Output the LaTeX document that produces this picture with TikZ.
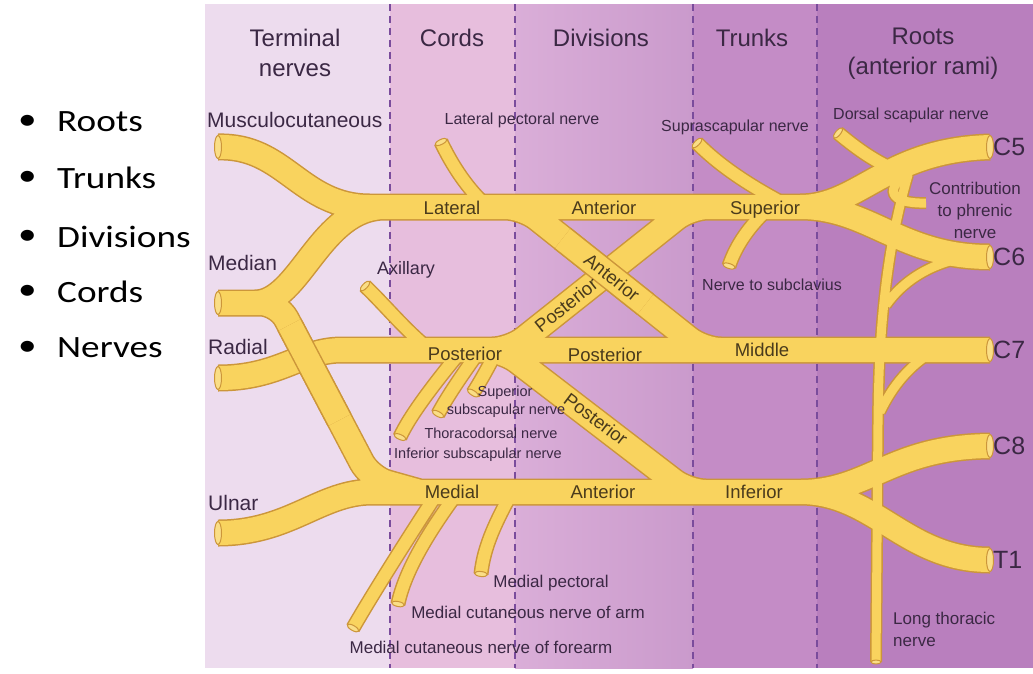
\documentclass[tikz,border=0pt]{standalone}
\usepackage{fontspec}
\setmainfont{Liberation Sans}
\newfontfamily\listfont[FakeStretch=1.2]{Carlito}
\usetikzlibrary{positioning}

\definecolor{nerveyel}{HTML}{F9D35E}
\definecolor{nerveedge}{HTML}{CC963A}
\definecolor{labeltxt}{HTML}{3B2844}
\definecolor{segtxt}{HTML}{4A3B1C}
\definecolor{colterm}{HTML}{EDDCEE}
\definecolor{colcords}{HTML}{E7BEDD}
\definecolor{coldivl}{HTML}{DAAED8}
\definecolor{coldivr}{HTML}{CA9ACC}
\definecolor{coltrunks}{HTML}{C48CC6}
\definecolor{colroots}{HTML}{B97FBE}
\definecolor{sepline}{HTML}{7A4C9C}

\begin{document}
\begin{tikzpicture}[
    x=1pt, y=-1pt,
    every node/.style={inner sep=0pt},
    hdr/.style={font=\fontsize{24}{30}\selectfont, text=labeltxt, align=center},
    lbl/.style={font=\fontsize{16}{19}\selectfont, text=labeltxt},
    smalllbl/.style={font=\fontsize{14.5}{17}\selectfont, text=labeltxt},
    midlbl/.style={font=\fontsize{17}{22}\selectfont, text=labeltxt, align=center},
    termlbl/.style={font=\fontsize{21}{24}\selectfont, text=labeltxt, anchor=west},
    seglbl/.style={font=\fontsize{18.5}{20}\selectfont, text=segtxt},
    rootlbl/.style={font=\fontsize{25}{28}\selectfont, text=labeltxt, anchor=west},
    listitem/.style={font=\listfont\fontsize{31}{36}\selectfont, text=black, anchor=west},
    edgeline/.style={draw=nerveedge, line width=#1pt, rounded corners=18pt},
    coreline/.style={draw=nerveyel, line width=#1pt, rounded corners=18pt},
    cutend/.style={fill=nerveyel!75!white, draw=nerveedge, line width=1pt},
    colsep/.style={draw=sepline, line width=1.4pt, dash pattern=on 7pt off 5pt}
]

   \useasboundingbox (0,0) rectangle (1033,673);

   % Bullet list
   \node[listitem] (dRoots) at (18,122) {•};
   \node[listitem] (tRoots) at (57,122) {Roots};
   \node[listitem] (dTrunks) at (18,178) {•};
   \node[listitem] (tTrunks) at (57,178) {Trunks};
   \node[listitem] (dDivisions) at (18,237) {•};
   \node[listitem] (tDivisions) at (57,237) {Divisions};
   \node[listitem] (dCords) at (18,292) {•};
   \node[listitem] (tCords) at (57,292) {Cords};
   \node[listitem] (dNerves) at (18,348) {•};
   \node[listitem] (tNerves) at (57,348) {Nerves};

   % Columns
   \fill[colterm] (205,4) rectangle (390,668);
   \fill[colcords] (390,4) rectangle (515,668);
   \shade[left color=coldivl, right color=coldivr] (515,4) rectangle (693,668);
   \fill[coltrunks] (693,4) rectangle (817,668);
   \fill[colroots] (817,4) rectangle (1033,668);
   \draw[colsep] (390,4) -- (390,668);
   \draw[colsep] (515,4) -- (515,668);
   \draw[colsep] (693,4) -- (693,668);
   \draw[colsep] (817,4) -- (817,668);

   % Headers
   \node[hdr] (hTerminal) at (295,53) {Terminal\\nerves};
   \node[hdr] (hCords) at (452,38) {Cords};
   \node[hdr] (hDivisions) at (601,38) {Divisions};
   \node[hdr] (hTrunks) at (752,38) {Trunks};
   \node[hdr] (hRoots) at (923,54) {Roots\\(anterior rami)};

   % Nerve paths
   \def\mainnerves{
     (218,147) .. controls (285,145) and (300,207) .. (370,207)
     (218,303) -- (262,303)
     (255,303) .. controls (300,303) and (320,207) .. (385,207)
     (250,303) -- (278,303) -- (370,478) -- (420,492)
     (365,207) -- (820,207)
     (800,207) .. controls (860,207) and (885,150) .. (990,147)
     (800,207) .. controls (870,207) and (900,257) .. (990,257)
     (218,378) .. controls (280,378) and (300,350) .. (360,350) -- (990,350)
     (218,533) .. controls (290,533) and (320,492) .. (390,492) -- (820,492)
     (800,492) .. controls (870,492) and (890,447) .. (990,446)
     (800,492) .. controls (875,492) and (905,560) .. (990,560)
     (470,207) -- (523,207) -- (703,350) -- (750,350)
     (740,207) -- (690,207) -- (510,350) -- (460,350)
     (460,350) -- (503,350) -- (688,492) -- (740,492)
   }
   \def\branchnerves{
     (441,142) .. controls (452,165) and (468,190) .. (488,207)
     (697,143) .. controls (722,168) and (752,187) .. (790,207)
     (770,207) .. controls (750,225) and (736,245) .. (729,266)
     (838,133) .. controls (855,147) and (872,160) .. (895,170)
     (365,286) .. controls (385,305) and (405,330) .. (430,350)
     (497,350) .. controls (488,368) and (480,382) .. (473,393)
     (480,350) .. controls (462,375) and (447,397) .. (438,414)
     (462,350) .. controls (437,380) and (410,415) .. (400,437)
     (438,492) .. controls (410,535) and (375,590) .. (353,628)
     (458,492) .. controls (430,530) and (405,570) .. (398,604)
     (512,492) .. controls (497,520) and (484,545) .. (481,574)
   }
   \def\thinnerves{
     (908,175) .. controls (892,230) and (880,300) .. (878,420) -- (876,662)
     (910,172) .. controls (884,188) and (888,204) .. (926,203)
     (968,257) .. controls (935,262) and (905,278) .. (886,305)
     (935,350) .. controls (910,365) and (893,385) .. (880,412)
   }

   % Nerves: outlines first, then the yellow cores
   \draw[edgeline=27] \mainnerves;
   \draw[edgeline=15] \branchnerves;
   \draw[edgeline=12] \thinnerves;
   \draw[coreline=24] \mainnerves;
   \draw[coreline=12] \branchnerves;
   \draw[coreline=9] \thinnerves;

   % Crossings (median over radial, anterior over posterior)
   \draw[edgeline=27] (289.6,325) -- (339.5,420);
   \draw[coreline=24] (289.6,325) -- (339.5,420);
   \draw[edgeline=27] (562.6,238.5) -- (645.4,304.2);
   \draw[coreline=24] (562.6,238.5) -- (645.4,304.2);

   % Cut ends
   \draw[cutend] (218,147) ellipse (3.5 and 11.5);
   \draw[cutend] (218,303) ellipse (3.5 and 11.5);
   \draw[cutend] (218,378) ellipse (3.5 and 11.5);
   \draw[cutend] (218,533) ellipse (3.5 and 11.5);
   \draw[cutend] (990,147) ellipse (3.5 and 11.5);
   \draw[cutend] (990,257) ellipse (3.5 and 11.5);
   \draw[cutend] (990,350) ellipse (3.5 and 11.5);
   \draw[cutend] (990,446) ellipse (3.5 and 11.5);
   \draw[cutend] (990,560) ellipse (3.5 and 11.5);
   \draw[cutend, rotate around={-64:(441,142)}] (441,142) ellipse (2.5 and 6.5);
   \draw[cutend, rotate around={-45:(697,143)}] (697,143) ellipse (2.5 and 6.5);
   \draw[cutend, rotate around={72:(729,266)}] (729,266) ellipse (2.5 and 6.5);
   \draw[cutend, rotate around={-40:(838,133)}] (838,133) ellipse (2.5 and 6.5);
   \draw[cutend, rotate around={-44:(365,286)}] (365,286) ellipse (2.5 and 6.5);
   \draw[cutend, rotate around={58:(473,393)}] (473,393) ellipse (2.5 and 6.5);
   \draw[cutend, rotate around={62:(438,414)}] (438,414) ellipse (2.5 and 6.5);
   \draw[cutend, rotate around={66:(400,437)}] (400,437) ellipse (2.5 and 6.5);
   \draw[cutend, rotate around={60:(353,628)}] (353,628) ellipse (2.5 and 6.5);
   \draw[cutend, rotate around={78:(398,604)}] (398,604) ellipse (2.5 and 6.5);
   \draw[cutend, rotate around={84:(481,574)}] (481,574) ellipse (2.5 and 6.5);
   \draw[cutend] (876,662) ellipse (5 and 2);

   % Terminal nerves
   \node[termlbl] (lMusculo) at (207,120) {Musculocutaneous};
   \node[termlbl] (lMedian) at (208,263) {Median};
   \node[termlbl] (lRadial) at (208,347) {Radial};
   \node[termlbl] (lUlnar) at (208,503) {Ulnar};

   % Roots
   \node[rootlbl] (lC5) at (993,147) {C5};
   \node[rootlbl] (lC6) at (993,257) {C6};
   \node[rootlbl] (lC7) at (993,350) {C7};
   \node[rootlbl] (lC8) at (993,446) {C8};
   \node[rootlbl] (lT1) at (993,560) {T1};

   % Cords, divisions, trunks
   \node[seglbl] (sLateral) at (452,208) {Lateral};
   \node[seglbl] (sAntUp) at (604,208) {Anterior};
   \node[seglbl] (sSuperior) at (765,210) {Superior};
   \node[seglbl] (sPostCord) at (465,354) {Posterior};
   \node[seglbl] (sPostMid) at (605,355) {Posterior};
   \node[seglbl] (sMiddle) at (762,350) {Middle};
   \node[seglbl] (sMedial) at (452,492) {Medial};
   \node[seglbl] (sAntLow) at (603,492) {Anterior};
   \node[seglbl] (sInferior) at (754,492) {Inferior};
   \node[seglbl, rotate=38.5] (sPostDiag) at (566,305) {Posterior};
   \node[seglbl, rotate=-38.5] (sAntDiag) at (612,277) {Anterior};
   \node[seglbl, rotate=-37] (sPostLow) at (596,419) {Posterior};

   % Branches
   \node[lbl] (lLatPec) at (522,120) {Lateral pectoral nerve};
   \node[lbl] (lSupra) at (735,127) {Suprascapular nerve};
   \node[lbl] (lDorsal) at (911,115) {Dorsal scapular nerve};
   \node[lbl] (lSubclav) at (772,285) {Nerve to subclavius};
   \node[font=\fontsize{18}{20}\selectfont, text=labeltxt] (lAxillary) at (406,270) {Axillary};
   \node[smalllbl] (lSupSub) at (505,393) {Superior};
   \node[smalllbl] (lSupSub2) at (506,411) {subscapular nerve};
   \node[smalllbl] (lThoraco) at (491,433) {Thoracodorsal nerve};
   \node[smalllbl] (lInfSub) at (478,455) {Inferior subscapular nerve};
   \node[midlbl] (lMedPec) at (551,583) {Medial pectoral};
   \node[midlbl] (lMedArm) at (528,612) {Medial cutaneous nerve of arm};
   \node[midlbl] (lMedFore) at (481,647) {Medial cutaneous nerve of forearm};
   \node[midlbl, align=left, anchor=west] (lLongThor) at (893,629) {Long thoracic\\nerve};
   \node[midlbl] (lPhrenic) at (975,210) {Contribution\\to phrenic\\nerve};

\end{tikzpicture}
\end{document}
